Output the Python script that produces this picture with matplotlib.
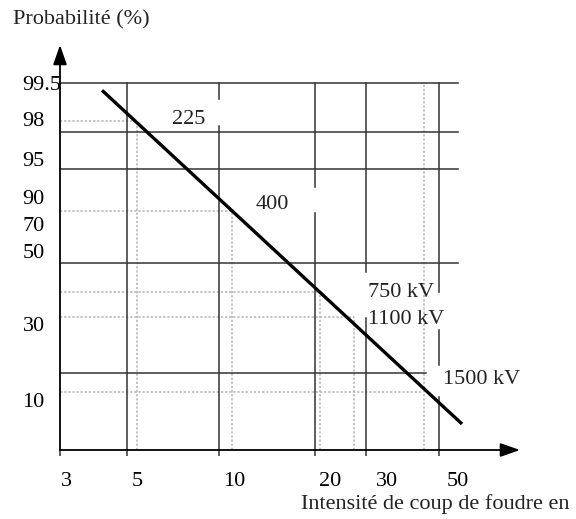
import numpy as np
import matplotlib
matplotlib.use("Agg")
import matplotlib.pyplot as plt

plt.rcParams["font.family"] = ["Liberation Serif", "DejaVu Serif"]

# Lightning current (kA) on a log axis, failure probability (%) on a
# stretched probability axis
X_TICKS = [3, 5, 10, 20, 30, 50]
Y_TICKS = [10, 30, 50, 70, 90, 95, 98, 99.5]
Y_TICK_LABELS = ["10", "30", "50", "70", "90", "95", "98", "99.5"]

# probability -> vertical position of the chart's paper scale
PROB_ANCHORS = [0, 10, 30, 50, 70, 90, 95, 98, 99.5, 100]
POS_ANCHORS = [0, 50, 126, 199, 226, 253, 291, 330.5, 367, 405]

X_MIN, X_MAX = 2.86, 78.3

# main grid
H_SOLID = [99.5, 97.05, 93.7, 46.7, 17.1]
H_SOLID_END = [50.1, 50.1, 50.1, 50.1, 39.8]
V_SOLID = [4.63, 8.98, 17.9, 25.8, 43.7]
V_SOLID_SPANS = [
    [(0, 99.5)],
    [(0, 97.5), (98.84, 99.5)],
    [(0, 78.1), (91.3, 99.5)],
    [(0, 31.6), (44.2, 99.5)],
    [(0, 10.8), (19.2, 28.4), (38.8, 99.5)],
]

# reading lines (dotted)
H_DOTTED = [97.9, 79.6, 38.8, 31.9, 12.1]
H_DOTTED_END = [4.98, 9.86, 18.6, 23.7, 39.0]
V_DOTTED = [4.98, 9.86, 18.6, 23.7, 39.2]
V_DOTTED_TOP = [97.9, 79.6, 38.8, 31.9, 99.5]

# characteristic
CURVE_I = [3.87, 51.6]
CURVE_P = [99.2, 5.2]

LEVEL_LABELS = ["225", "400", "750 kV", "1100 kV", "1500 kV"]
LEVEL_I = [7.2, 13.2, 26.2, 26.2, 45.0]
LEVEL_P = [98.0, 84.1, 38.6, 31.3, 15.3]
LEVEL_HA = ["center", "center", "left", "left", "left"]

GRID = "#333333"
DOT = "#b4b4b4"
FS = 16


def fwd(p):
    return np.interp(p, PROB_ANCHORS, POS_ANCHORS)


def inv(y):
    return np.interp(y, POS_ANCHORS, PROB_ANCHORS)


fig = plt.figure(figsize=(5.76, 5.19), dpi=100)
fig.patch.set_facecolor("white")
W, H = 576, 519
ax = fig.add_axes([60 / W, (H - 450) / H, (520 - 60) / W, (450 - 45) / H])

ax.set_xscale("log")
ax.set_yscale("function", functions=(fwd, inv))
ax.set_xlim(X_MIN, X_MAX)
ax.set_ylim(0, 100)

# dotted reading lines
for p, xe in zip(H_DOTTED, H_DOTTED_END):
    ax.plot([X_MIN, xe], [p, p], color=DOT, lw=1.1, ls=(0, (1.5, 1.2)), zorder=1)
for x, pt in zip(V_DOTTED, V_DOTTED_TOP):
    ax.plot([x, x], [0, pt], color=DOT, lw=1.1, ls=(0, (1.5, 1.2)), zorder=1)

# solid grid
for p, xe in zip(H_SOLID, H_SOLID_END):
    ax.plot([X_MIN, xe], [p, p], color=GRID, lw=1.1, zorder=2)
for x, spans in zip(V_SOLID, V_SOLID_SPANS):
    for y0, y1 in spans:
        ax.plot([x, x], [y0, y1], color=GRID, lw=1.1, zorder=2)

# characteristic line
ax.plot(CURVE_I, CURVE_P, color="black", lw=2.4, solid_capstyle="butt", zorder=4)

for txt, x, p, ha in zip(LEVEL_LABELS, LEVEL_I, LEVEL_P, LEVEL_HA):
    ax.text(x, p, txt, ha=ha, va="center", fontsize=FS, color="#222222", zorder=5)

# axes drawn as arrows
for s in ax.spines.values():
    s.set_visible(False)
arrow = dict(arrowstyle="-|>,head_length=1.2,head_width=0.42",
             color="black", lw=1.3, shrinkA=0, shrinkB=0)
ax.annotate("", xy=(1.0, 0), xytext=(0, 0), xycoords="axes fraction", arrowprops=arrow)
ax.annotate("", xy=(0, 1.0), xytext=(0, 0), xycoords="axes fraction", arrowprops=arrow)

ax.set_xticks(X_TICKS)
ax.set_xticklabels([str(v) for v in X_TICKS])
ax.set_xticks([X_MIN] + V_SOLID, minor=True)
ax.tick_params(axis="x", which="major", length=0, pad=16, labelsize=FS)
ax.tick_params(axis="x", which="minor", length=4, width=1.1, color=GRID,
               direction="out", labelbottom=False)

ax.set_yticks(Y_TICKS)
ax.set_yticklabels(Y_TICK_LABELS)
ax.yaxis.set_minor_locator(matplotlib.ticker.NullLocator())
ax.tick_params(axis="y", length=0, pad=27, labelsize=FS)
for lab in ax.get_yticklabels():
    lab.set_horizontalalignment("left")

fig.text(13 / W, 1 - 20 / H, "Probabilité (%)", fontsize=FS,
         ha="left", va="center", color="#222222")
fig.text(301 / W, 1 - 504 / H, "Intensité de coup de foudre en", fontsize=FS,
         ha="left", va="center", color="#222222")

fig.savefig("out.png", dpi=100, facecolor="white")
